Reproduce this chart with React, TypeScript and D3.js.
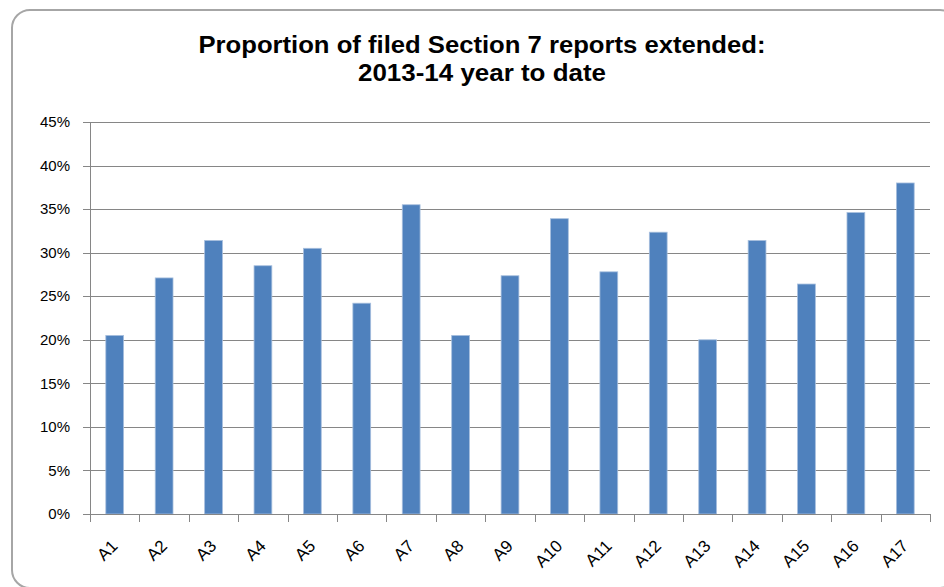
import React, { useEffect, useRef } from 'react';
import * as d3 from 'd3';

const categories = ['A1', 'A2', 'A3', 'A4', 'A5', 'A6', 'A7', 'A8', 'A9', 'A10', 'A11', 'A12', 'A13', 'A14', 'A15', 'A16', 'A17'];
const extended = [20.5, 27.1, 31.4, 28.5, 30.5, 24.2, 35.5, 20.5, 27.35, 33.9, 27.8, 32.35, 20.0, 31.4, 26.4, 34.6, 38.0];
const yTicks = [0, 5, 10, 15, 20, 25, 30, 35, 40, 45];
const titleLines = ['Proportion of filed Section 7 reports extended:', '2013-14 year to date'];

const App = () => {
  const ref = useRef<SVGSVGElement | null>(null);

  useEffect(() => {
    const svg = d3.select(ref.current);
    svg.selectAll('*').remove();

    const W = 944;
    const H = 587;
    const margin = { top: 122, right: 14, bottom: 73, left: 90 };
    const w = W - margin.left - margin.right;
    const h = H - margin.top - margin.bottom;
    const font = 'Arial, "Liberation Sans", sans-serif';

    // chart frame (rounded, runs off the right/bottom edge)
    svg.append('rect')
      .attr('x', 12).attr('y', 10)
      .attr('width', 946).attr('height', 578)
      .attr('rx', 18).attr('ry', 18)
      .attr('fill', 'white')
      .attr('stroke', '#a6a6a6')
      .attr('stroke-width', 2);

    // title - the original is a tight bold face, so widths are pinned
    const titleWidths = [567, 248];
    titleLines.forEach((t, i) => {
      svg.append('text')
        .attr('x', 482)
        .attr('y', 53 + i * 28)
        .attr('text-anchor', 'middle')
        .attr('textLength', titleWidths[i])
        .attr('lengthAdjust', 'spacingAndGlyphs')
        .style('font-family', font)
        .style('font-weight', 'bold')
        .style('font-size', '23px')
        .attr('fill', '#000')
        .text(t);
    });

    const x = d3.scaleBand().domain(categories).range([0, w]).paddingInner(0.64).paddingOuter(0.32);
    const y = d3.scaleLinear().domain([0, 45]).range([h, 0]);

    const g = svg.append('g').attr('transform', `translate(${margin.left}, ${margin.top})`);

    // gridlines
    g.append('g')
      .selectAll('line')
      .data(yTicks)
      .join('line')
      .attr('x1', -7).attr('x2', w)
      .attr('y1', d => Math.round(y(d)) + 0.5)
      .attr('y2', d => Math.round(y(d)) + 0.5)
      .attr('stroke', '#868686')
      .attr('stroke-width', 1);

    // y labels
    g.append('g')
      .selectAll('text')
      .data(yTicks)
      .join('text')
      .attr('x', -20)
      .attr('y', d => y(d))
      .attr('dy', '0.35em')
      .attr('text-anchor', 'end')
      .style('font-family', font)
      .style('font-size', '15px')
      .attr('fill', '#000')
      .text(d => `${d}%`);

    // bars
    g.append('g')
      .selectAll('rect')
      .data(extended)
      .join('rect')
      .attr('x', (d, i) => x(categories[i])!)
      .attr('y', d => y(d))
      .attr('width', x.bandwidth())
      .attr('height', d => h - y(d))
      .attr('fill', '#4f81bd')
      .attr('stroke', '#a7bfde')
      .attr('stroke-width', 0.8);

    // axes lines
    g.append('line')
      .attr('x1', 0.5).attr('x2', 0.5)
      .attr('y1', 0).attr('y2', h)
      .attr('stroke', '#868686');
    g.append('line')
      .attr('x1', -7).attr('x2', w)
      .attr('y1', h + 0.5).attr('y2', h + 0.5)
      .attr('stroke', '#868686');

    // x tick marks at category boundaries
    const step = x.step();
    const bounds = d3.range(categories.length + 1).map(i => i * step);
    g.append('g')
      .selectAll('line')
      .data(bounds)
      .join('line')
      .attr('x1', d => Math.round(d) + 0.5).attr('x2', d => Math.round(d) + 0.5)
      .attr('y1', h).attr('y2', h + 8)
      .attr('stroke', '#868686');

    // x labels rotated
    g.append('g')
      .selectAll('text')
      .data(categories)
      .join('text')
      .attr('transform', d => `translate(${x(d)! + x.bandwidth() / 2 + 4}, ${h + 33}) rotate(-45)`)
      .attr('text-anchor', 'end')
      .style('font-family', font)
      .style('font-size', '17px')
      .attr('fill', '#000')
      .text(d => d);
  }, []);

  return (
    <svg ref={ref} width={944} height={587} style={{ position: 'absolute', left: 0, top: 0, display: 'block' }} />
  );
};

export default App;
